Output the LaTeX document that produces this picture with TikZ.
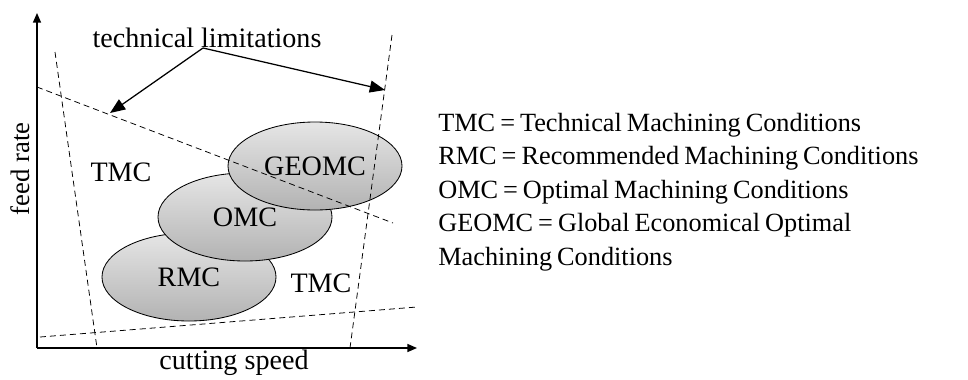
\documentclass[tikz,border=0pt]{standalone}
\usepackage{fontspec}
\setmainfont{Liberation Serif}
\usepackage{tikz}
\usetikzlibrary{arrows.meta}
\usetikzlibrary{shapes.geometric}
\newcommand{\keyfont}{\fontsize{18.7}{23.8}\selectfont\spaceskip=0.19em plus 0.05em\relax}

\tikzset{
  limit/.style={dashed, dash pattern=on 1.5mm off 1mm, line width=0.55pt},
  zone/.style={ellipse, draw, line width=0.6pt, minimum width=43.5mm, minimum height=22mm,
    top color=gray!20, bottom color=gray!60, inner sep=0pt},
  lbl/.style={font=\fontsize{20}{24}\selectfont, inner sep=0pt},
  pointer/.style={line width=0.9pt, -{Triangle[length=3.8mm,width=3mm]}}
}

\begin{document}
\begin{tikzpicture}[x=0.25mm,y=-0.25mm]
\useasboundingbox (0,0) rectangle (968,379);
\coordinate (O) at (37,348);
\coordinate (Y) at (37,13);
\coordinate (X) at (417,348);
\coordinate (A) at (55,52);
\coordinate (B) at (97,348);
\coordinate (C) at (392,35);
\coordinate (D) at (350,348);
\coordinate (E) at (37,87);
\coordinate (F) at (393,223);
\coordinate (G) at (40,337);
\coordinate (H) at (417,307);
\coordinate (P) at (110,113);
\coordinate (Q) at (385,90);
% regions
\node[zone] (rmc) at (189,277) {};
\node[zone] (omc) at (245,217) {};
\node[zone] (geomc) at (315,166) {};
\node[lbl] (rmct) at (rmc) {RMC};
\node[lbl] (omct) at (omc) {OMC};
\node[lbl] (geomct) at (geomc) {GEOMC};
% limits
\draw[limit] (A) -- (B);
\draw[limit] (C) -- (D);
\draw[limit] (E) -- (F);
\draw[limit] (G) -- (H);
% axes
\draw[line width=0.9pt, -{Triangle[length=2.4mm,width=2mm]}] (O) -- (Y);
\draw[line width=0.9pt, -{Triangle[length=2.4mm,width=2mm]}] (O) -- (X);
\node[lbl, rotate=90, font=\fontsize{19}{23}\selectfont] (fr) at (20,169) {feed rate};
\node[lbl] (cs) at (234,363) {cutting speed};
\node[lbl] (tl) at (207,38) {technical limitations};
\node[lbl] (tmc1) at (121,172) {TMC};
\node[lbl] (tmc2) at (321,283) {TMC};
\coordinate (T) at (203,48);
\draw[pointer] (T) -- (P);
\draw[pointer] (T) -- (Q);
% legend
\node[lbl, anchor=north west, align=left, font=\keyfont] (key) at (438,113) {TMC = Technical Machining Conditions\\
RMC = Recommended Machining Conditions\\
OMC = Optimal Machining Conditions\\
GEOMC = Global Economical Optimal\\
Machining Conditions};
\end{tikzpicture}
\end{document}
